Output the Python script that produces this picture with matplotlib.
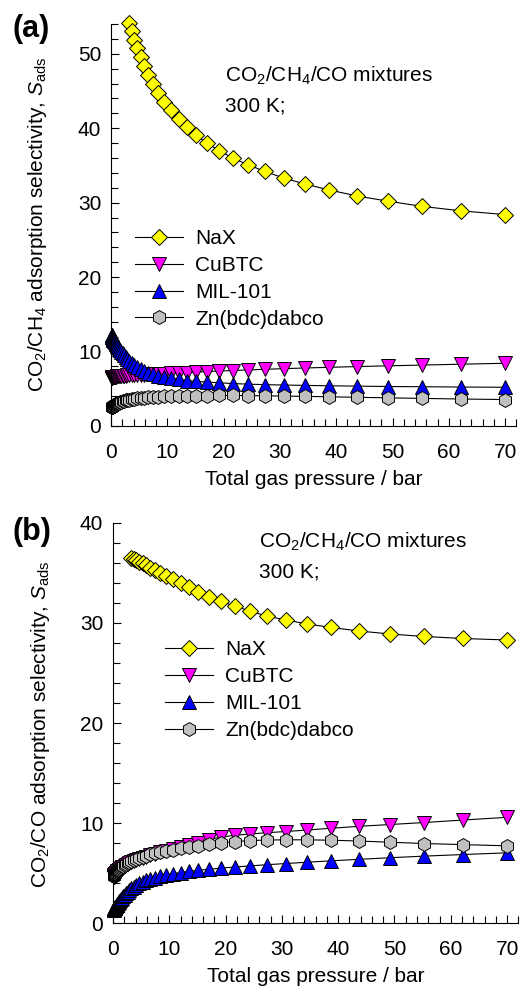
import matplotlib
matplotlib.use("Agg")
import matplotlib.pyplot as plt
from matplotlib.ticker import MultipleLocator

plt.rcParams['font.family'] = ['Liberation Sans', 'DejaVu Sans']
plt.rcParams['mathtext.fontset'] = 'custom'
plt.rcParams['mathtext.rm'] = 'Liberation Sans'
plt.rcParams['mathtext.it'] = 'Liberation Sans:italic'

# total gas pressure / bar
p = [0.10, 0.11, 0.12, 0.14, 0.15, 0.17, 0.19, 0.22, 0.25, 0.28,
     0.31, 0.35, 0.39, 0.44, 0.50, 0.56, 0.63, 0.71, 0.80, 0.90,
     1.01, 1.13, 1.28, 1.44, 1.62, 1.82, 2.05, 2.30, 2.59, 2.91,
     3.28, 3.69, 4.15, 4.67, 5.25, 5.91, 6.64, 7.47, 8.41, 9.46,
     10.6, 12.0, 13.5, 15.1, 17.0, 19.2, 21.6, 24.3, 27.3, 30.7,
     34.5, 38.8, 43.7, 49.2, 55.3, 62.2, 70.0]
p_nax = p[30:]

# CO2/CH4 selectivity
ch4_nax = [54.1, 53.0, 51.9, 50.8, 49.6, 48.4, 47.1, 45.9, 44.7, 43.5,
           42.4, 41.3, 40.2, 39.1, 38.0, 37.0, 36.0, 35.1, 34.2, 33.3,
           32.5, 31.7, 30.9, 30.2, 29.5, 28.9, 28.4]
ch4_cubtc = [6.50, 6.50, 6.51, 6.51, 6.52, 6.52, 6.53, 6.53, 6.54, 6.55,
             6.55, 6.56, 6.57, 6.58, 6.59, 6.60, 6.61, 6.62, 6.63, 6.64,
             6.65, 6.66, 6.68, 6.69, 6.70, 6.72, 6.73, 6.75, 6.76, 6.78,
             6.80, 6.82, 6.84, 6.86, 6.88, 6.90, 6.93, 6.96, 6.99, 7.03,
             7.07, 7.12, 7.18, 7.24, 7.31, 7.38, 7.45, 7.53, 7.61, 7.70,
             7.79, 7.88, 7.98, 8.08, 8.18, 8.30, 8.42]
ch4_mil = [12.20, 12.18, 12.15, 12.12, 12.10, 12.05, 12.00, 11.95, 11.90, 11.85,
           11.80, 11.75, 11.70, 11.60, 11.50, 11.45, 11.35, 11.25, 11.10, 11.00,
           10.85, 10.70, 10.55, 10.35, 10.15, 9.95, 9.75, 9.50, 9.25, 9.00,
           8.75, 8.45, 8.20, 7.90, 7.65, 7.40, 7.15, 6.95, 6.75, 6.55,
           6.40, 6.25, 6.10, 6.00, 5.90, 5.80, 5.70, 5.62, 5.55, 5.50,
           5.45, 5.40, 5.35, 5.30, 5.27, 5.23, 5.20]
ch4_zn = [2.50, 2.51, 2.52, 2.53, 2.55, 2.56, 2.58, 2.60, 2.62, 2.64,
          2.66, 2.69, 2.71, 2.74, 2.77, 2.80, 2.84, 2.88, 2.92, 2.96,
          3.00, 3.05, 3.10, 3.15, 3.20, 3.26, 3.32, 3.38, 3.44, 3.50,
          3.55, 3.60, 3.65, 3.70, 3.75, 3.80, 3.85, 3.90, 3.94, 3.98,
          4.01, 4.04, 4.06, 4.08, 4.09, 4.10, 4.10, 4.08, 4.05, 4.02,
          3.97, 3.92, 3.85, 3.78, 3.70, 3.62, 3.55]

# CO2/CO selectivity
co_nax = [36.5, 36.4, 36.25, 36.1, 35.95, 35.75, 35.5, 35.25, 35.0, 34.7,
          34.4, 34.0, 33.6, 33.1, 32.6, 32.15, 31.7, 31.2, 30.7, 30.3,
          29.9, 29.55, 29.2, 28.9, 28.65, 28.45, 28.3]
co_cubtc = [4.60, 4.62, 4.63, 4.65, 4.67, 4.69, 4.71, 4.74, 4.77, 4.80,
            4.83, 4.86, 4.90, 4.94, 4.98, 5.02, 5.07, 5.12, 5.17, 5.23,
            5.29, 5.35, 5.42, 5.49, 5.56, 5.64, 5.72, 5.81, 5.90, 5.99,
            6.09, 6.19, 6.30, 6.41, 6.52, 6.65, 6.78, 6.92, 7.06, 7.22,
            7.38, 7.56, 7.80, 8.05, 8.35, 8.60, 8.77, 8.90, 9.03, 9.15,
            9.30, 9.48, 9.67, 9.85, 10.05, 10.30, 10.57]
co_mil = [1.35, 1.36, 1.37, 1.38, 1.39, 1.40, 1.42, 1.44, 1.46, 1.48,
          1.51, 1.54, 1.57, 1.61, 1.66, 1.71, 1.77, 1.84, 1.91, 1.99,
          2.08, 2.18, 2.30, 2.42, 2.55, 2.69, 2.84, 2.99, 3.15, 3.31,
          3.48, 3.64, 3.80, 3.96, 4.12, 4.27, 4.41, 4.55, 4.68, 4.81,
          4.93, 5.05, 5.16, 5.27, 5.38, 5.49, 5.60, 5.71, 5.83, 5.95,
          6.08, 6.22, 6.37, 6.53, 6.69, 6.85, 7.02]
co_zn = [4.70, 4.72, 4.73, 4.75, 4.77, 4.79, 4.81, 4.84, 4.87, 4.90,
         4.93, 4.96, 5.00, 5.04, 5.08, 5.12, 5.17, 5.22, 5.27, 5.33,
         5.39, 5.45, 5.52, 5.59, 5.66, 5.74, 5.82, 5.91, 6.00, 6.09,
         6.19, 6.29, 6.40, 6.51, 6.62, 6.74, 6.86, 6.98, 7.10, 7.22,
         7.34, 7.46, 7.60, 7.74, 7.88, 8.02, 8.14, 8.24, 8.30, 8.32,
         8.32, 8.28, 8.20, 8.08, 7.95, 7.84, 7.72]

labels = ['NaX', 'CuBTC', 'MIL-101', 'Zn(bdc)dabco']
markers = ['D', 'v', '^', 'h']
faces = ['#ffff00', '#ff00ff', '#0000ff', '#c0c0c0']
sizes = [8.5, 10, 10, 10]
fs = 15

fig = plt.figure(figsize=(5.2, 9.89), dpi=100)
ax1 = fig.add_axes([0.2135, 0.5693, 0.7795, 0.4064])
ax2 = fig.add_axes([0.2173, 0.0667, 0.7795, 0.4045])


def draw(ax, series, ymax):
    for (x, y), lab, m, fc, ms in zip(series, labels, markers, faces, sizes):
        ax.plot(x, y, '-', color='black', lw=0.8, marker=m, ms=ms,
                mfc=fc, mec='black', mew=0.7, label=lab, clip_on=False)
    ax.set_xlim(0, 72)
    ax.set_ylim(0, ymax)
    ax.xaxis.set_major_locator(MultipleLocator(10))
    ax.xaxis.set_minor_locator(MultipleLocator(2))
    ax.yaxis.set_major_locator(MultipleLocator(10))
    ax.yaxis.set_minor_locator(MultipleLocator(2))
    ax.tick_params(which='both', direction='in', width=0.8, labelsize=fs)
    ax.tick_params(which='major', length=6)
    ax.tick_params(which='minor', length=5)
    ax.tick_params(axis='x', pad=12)
    ax.tick_params(axis='y', pad=7)
    for s in ['top', 'right']:
        ax.spines[s].set_visible(False)
    ax.set_xlabel('Total gas pressure / bar', fontsize=fs, labelpad=6)


draw(ax1, [(p_nax, ch4_nax), (p, ch4_cubtc), (p, ch4_mil), (p, ch4_zn)], 54)
draw(ax2, [(p_nax, co_nax), (p, co_cubtc), (p, co_mil), (p, co_zn)], 40)

fig.text(0.073, 0.773, r'CO$_2$/CH$_4$ adsorption selectivity, $S_{\rm ads}$',
         rotation=90, ha='center', va='center', fontsize=fs)
fig.text(0.077, 0.268, r'CO$_2$/CO adsorption selectivity, $S_{\rm ads}$',
         rotation=90, ha='center', va='center', fontsize=fs)

fig.text(0.06, 0.971, '(a)', fontsize=22, fontweight='bold', ha='center', va='center')
fig.text(0.062, 0.462, '(b)', fontsize=22, fontweight='bold', ha='center', va='center')

ax1.text(0.281, 0.8565, r'CO$_2$/CH$_4$/CO mixtures', transform=ax1.transAxes,
         fontsize=fs, va='baseline')
ax1.text(0.281, 0.782, '300 K;', transform=ax1.transAxes, fontsize=fs, va='baseline')
ax2.text(0.361, 0.937, r'CO$_2$/CH$_4$/CO mixtures', transform=ax2.transAxes,
         fontsize=fs, va='baseline')
ax2.text(0.361, 0.864, '300 K;', transform=ax2.transAxes, fontsize=fs, va='baseline')

leg_kw = dict(loc='upper left', frameon=False, fontsize=fs, borderpad=0,
              borderaxespad=0, handlelength=2.3, handletextpad=0.6,
              labelspacing=0.38)
ax1.legend(bbox_to_anchor=(0.059, 0.49), **leg_kw)
ax2.legend(bbox_to_anchor=(0.128, 0.707), **leg_kw)

fig.savefig('out.png', dpi=100)
